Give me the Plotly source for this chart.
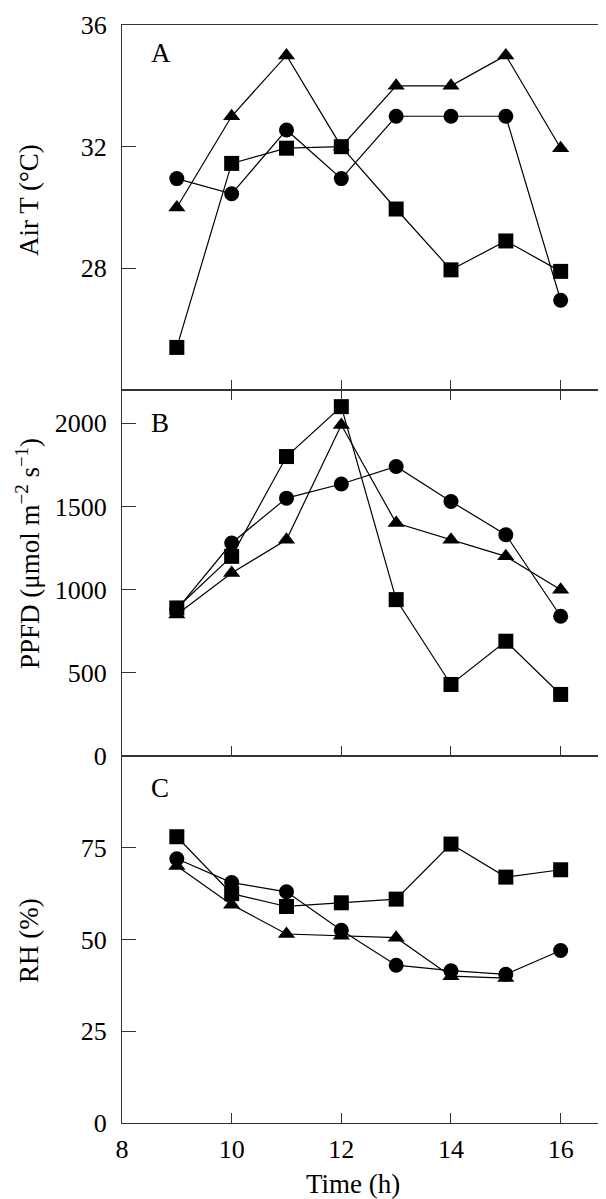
import plotly.graph_objects as go
from plotly.subplots import make_subplots

hours = [9, 10, 11, 12, 13, 14, 15, 16]
hours_rh_tri = [9, 10, 11, 12, 13, 14, 15]

airT_square = [25.4, 31.45, 31.95, 32.0, 29.95, 27.95, 28.9, 27.9]
airT_circle = [30.95, 30.45, 32.55, 30.95, 33.0, 33.0, 33.0, 26.95]
airT_triangle = [30.0, 33.0, 35.0, 32.0, 34.0, 34.0, 35.0, 31.95]

ppfd_square = [890, 1200, 1800, 2100, 940, 430, 690, 370]
ppfd_circle = [880, 1280, 1550, 1635, 1740, 1530, 1330, 840]
ppfd_triangle = [850, 1100, 1300, 1990, 1400, 1300, 1200, 1000]

rh_square = [78, 62.5, 59, 60, 61, 76, 67, 69]
rh_circle = [72, 65.5, 63, 52.5, 43, 41.5, 40.5, 47]
rh_triangle = [70, 59.5, 51.5, 51, 50.5, 40, 39.5]

x_ticks = [8, 10, 12, 14, 16]
airT_ticks = [28, 32, 36]
ppfd_ticks = [0, 500, 1000, 1500, 2000]
rh_ticks = [0, 25, 50, 75]

FONT = "Liberation Serif"
LINE = dict(color="black", width=1.2)

fig = make_subplots(rows=3, cols=1, shared_xaxes=True, vertical_spacing=0)

def add(row, xs, ys, symbol):
    fig.add_trace(go.Scatter(
        x=xs, y=ys, mode="lines+markers",
        line=LINE,
        marker=dict(symbol=symbol, size=15, color="black",
                    line=dict(width=0)),
        showlegend=False, cliponaxis=False), row=row, col=1)

add(1, hours, airT_square, "square")
add(1, hours, airT_circle, "circle")
add(1, hours, airT_triangle, "triangle-up")
add(2, hours, ppfd_square, "square")
add(2, hours, ppfd_circle, "circle")
add(2, hours, ppfd_triangle, "triangle-up")
add(3, hours, rh_square, "square")
add(3, hours, rh_circle, "circle")
add(3, hours_rh_tri, rh_triangle, "triangle-up")

H = 1199
top, bottom = 17, 84
ph = H - top - bottom
dC = (0, 367 / ph)
dB = (367 / ph, 733 / ph)
dA = (733 / ph, 1)

axis_common = dict(showline=True, linecolor="#333", linewidth=1.3,
                   ticks="inside", tickcolor="#333", tickwidth=1.3,
                   showgrid=False, zeroline=False, automargin=False,
                   tickfont=dict(family=FONT, size=26, color="black"))

fig.update_layout(
    width=606, height=H,
    margin=dict(l=114, r=4, t=top, b=bottom),
    plot_bgcolor="white", paper_bgcolor="white",
    font=dict(family=FONT, color="black"),
    xaxis=dict(**axis_common, range=[8, 16.9], tickvals=x_ticks, ticklen=10,
               mirror=True, showticklabels=False),
    xaxis2=dict(**axis_common, range=[8, 16.9], tickvals=x_ticks, ticklen=10,
                mirror="ticks", showticklabels=False),
    xaxis3=dict(**axis_common, range=[8, 16.9], tickvals=x_ticks, ticklen=10,
                mirror=True, showticklabels=True, ticklabelstandoff=3),
    yaxis=dict(**axis_common, range=[24, 36], tickvals=airT_ticks, ticklen=14,
               mirror=True, domain=dA, ticklabelstandoff=9),
    yaxis2=dict(**axis_common, range=[0, 2200], tickvals=ppfd_ticks, ticklen=14,
                mirror=True, domain=dB, ticklabelstandoff=9),
    yaxis3=dict(**axis_common, range=[0, 100], tickvals=rh_ticks, ticklen=14,
                mirror=True, domain=dC, ticklabelstandoff=9),
)

TF = dict(family=FONT, size=27, color="black")
ann = [
    dict(text="Air T (°C)", x=-93, y=192, textangle=-90),
    dict(text="PPFD (μmol m<sup>−2</sup> s<sup>−1</sup>)", x=-94, y=546, textangle=-90),
    dict(text="RH (%)", x=-93, y=933, textangle=-90),
]
for a in ann:
    fig.add_annotation(text=a["text"], textangle=a["textangle"],
                       xref="paper", yref="paper",
                       x=a["x"] / 488, y=1 - (a["y"] - top) / ph,
                       xanchor="center", yanchor="middle",
                       showarrow=False, font=TF)

fig.add_annotation(text="Time (h)", xref="paper", yref="paper",
                   x=(345 - 114) / 488, y=-(1176 - 1115) / ph,
                   xanchor="center", yanchor="middle", showarrow=False,
                   font=TF, borderpad=0)

for row, yv, letter in [(1, 35.07, "A"), (2, 2000, "B"), (3, 91.3, "C")]:
    fig.add_annotation(text=letter, x=8.5, y=yv, xref=f"x{'' if row == 1 else row}",
                       yref=f"y{'' if row == 1 else row}", xanchor="left",
                       yanchor="middle", showarrow=False, font=TF)

fig.write_html("out.html")
